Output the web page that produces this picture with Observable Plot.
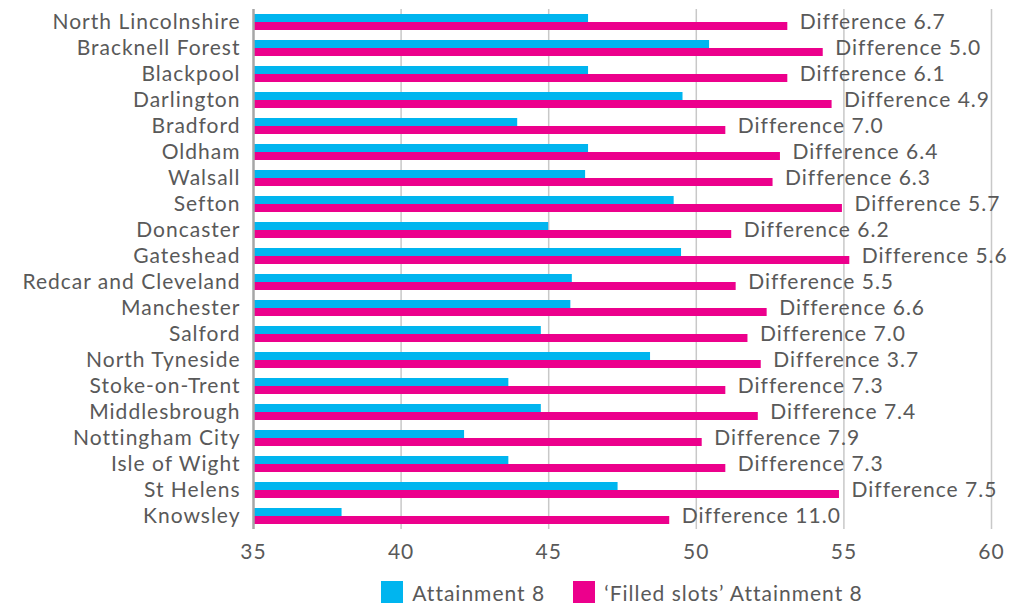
<!DOCTYPE html>
<html>
<head>
<meta charset="utf-8">
<script src="https://cdn.jsdelivr.net/npm/d3@7"></script>
<script src="https://cdn.jsdelivr.net/npm/@observablehq/plot@0.6"></script>
<style>
  html, body { margin: 0; padding: 0; background: #fff; }
  body { width: 1026px; height: 606px; overflow: hidden; font-family: Lato, "Open Sans", sans-serif; }
  #legend { display: flex; justify-content: center; align-items: center; padding-left: 253px; padding-right: 35px; height: 26px; margin-top: 7px; font-size: 21px; letter-spacing: 1px; color: #595959; }
  .item { display: flex; align-items: center; margin: 0 14px; }
  .sw { width: 22px; height: 22px; margin-right: 9px; }
</style>
</head>
<body>
<div id="chart"></div>
<div id="legend"></div>
<script>
const categories = ["North Lincolnshire","Bracknell Forest","Blackpool","Darlington","Bradford","Oldham","Walsall","Sefton","Doncaster","Gateshead","Redcar and Cleveland","Manchester","Salford","North Tyneside","Stoke-on-Trent","Middlesbrough","Nottingham City","Isle of Wight","St Helens","Knowsley"];
const attainment8 = [46.35, 50.45, 46.35, 49.55, 43.95, 46.35, 46.25, 49.25, 45.0, 49.5, 45.8, 45.75, 44.75, 48.45, 43.65, 44.75, 42.15, 43.65, 47.35, 38.0];
const filledSlots = [53.1, 54.3, 53.1, 54.6, 51.0, 52.85, 52.6, 54.95, 51.2, 55.2, 51.35, 52.4, 51.75, 52.2, 51.0, 52.1, 50.2, 51.0, 54.85, 49.1];
const differences = ["6.7","5.0","6.1","4.9","7.0","6.4","6.3","5.7","6.2","5.6","5.5","6.6","7.0","3.7","7.3","7.4","7.9","7.3","7.5","11.0"];
const seriesNames = ["Attainment 8", "\u2018Filled slots\u2019 Attainment 8"];
const seriesColors = ["#00b5ef", "#ec008c"];
const xTicks = [35, 40, 45, 50, 55, 60];

const rows = categories.map((c, i) => ({cat: c, a8: attainment8[i], fs: filledSlots[i], diff: "Difference " + differences[i]}));

const chart = Plot.plot({
  width: 1026,
  height: 572,
  marginLeft: 253,
  marginRight: 35,
  marginTop: 9,
  marginBottom: 43,
  style: {fontFamily: "Lato, 'Open Sans', sans-serif", fontSize: "21px", letterSpacing: "1px", color: "#595959", background: "#fff"},
  x: {domain: [35, 60], ticks: xTicks, tickSize: 0, tickPadding: 15, label: null},
  y: {domain: categories, padding: 0, tickSize: 0, tickPadding: 13, label: null},
  marks: [
    Plot.ruleX(xTicks.slice(1), {stroke: "#c8c8c8", strokeWidth: 1.5}),
    Plot.barX(rows, {x1: 35, x2: "a8", y: "cat", fill: seriesColors[0], insetTop: 5, insetBottom: 13}),
    Plot.barX(rows, {x1: 35, x2: "fs", y: "cat", fill: seriesColors[1], insetTop: 13, insetBottom: 5}),
    Plot.ruleX([35], {stroke: "#a6a6a6", strokeWidth: 2.5}),
    Plot.text(rows, {x: "fs", y: "cat", text: "diff", textAnchor: "start", dx: 12, fill: "#595959", fontSize: 21})
  ]
});
document.getElementById("chart").appendChild(chart);

const legend = document.getElementById("legend");
seriesNames.forEach((n, i) => {
  const it = document.createElement("div");
  it.className = "item";
  const sw = document.createElement("div");
  sw.className = "sw";
  sw.style.background = seriesColors[i];
  const t = document.createElement("span");
  t.textContent = n;
  it.appendChild(sw); it.appendChild(t);
  legend.appendChild(it);
});
</script>
</body>
</html>
